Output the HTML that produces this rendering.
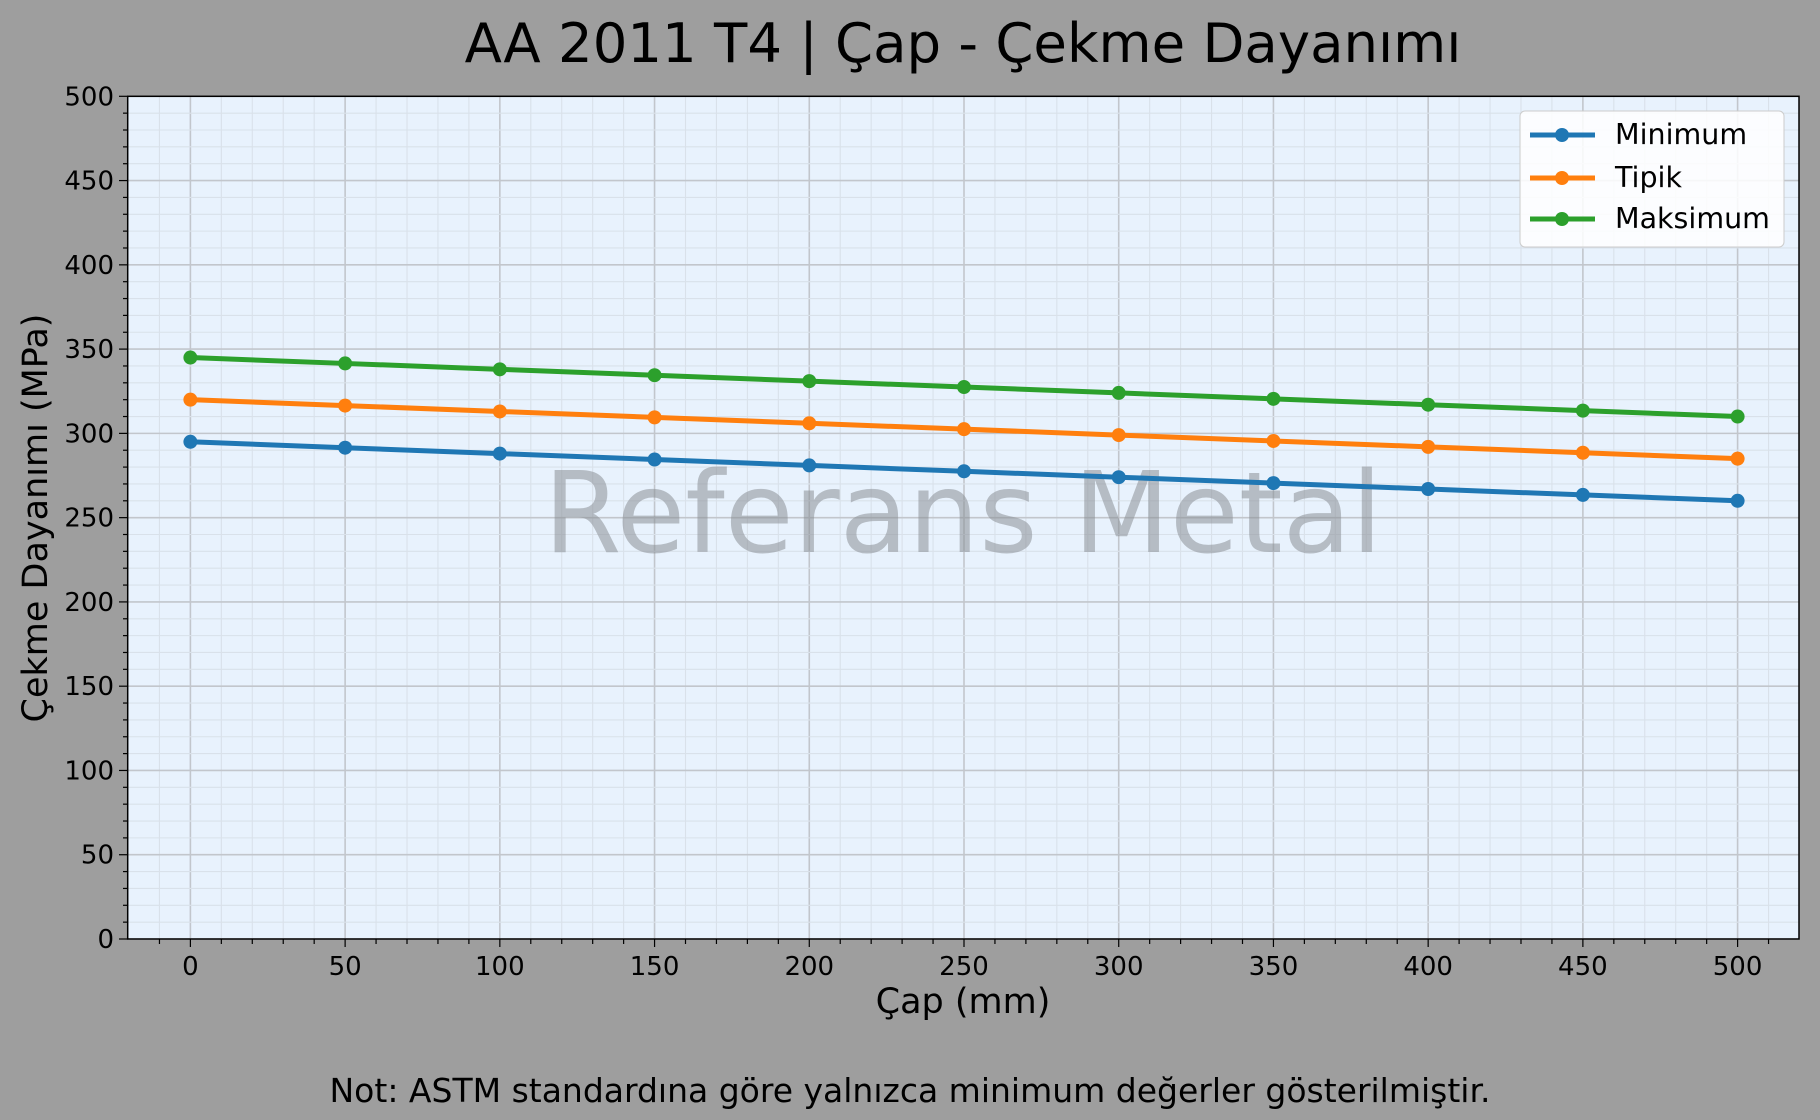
<!DOCTYPE html>
<html><head><meta charset="utf-8"><style>
html,body{margin:0;padding:0;background:#9e9e9e;}
svg{display:block;font-family:"DejaVu Sans","Liberation Sans",sans-serif;}
</style></head><body>
<svg id="s" width="1820" height="1120" xmlns="http://www.w3.org/2000/svg">
<rect width="1820" height="1120" fill="#9e9e9e"/>
<rect x="127.7" y="96.3" width="1671.3" height="842.7" fill="#e8f2fd"/>
<g id="grid"></g>
<text x="963" y="552" font-size="112" fill="#8a8f96" fill-opacity="0.55" text-anchor="middle">Referans Metal</text>
<g id="series"></g>
<rect x="127.7" y="96.3" width="1671.3" height="842.7" fill="none" stroke="#000" stroke-width="1.5"/>
<g id="ticks" font-size="26" fill="#000"></g>
<text x="963" y="62" font-size="54.5" text-anchor="middle">AA 2011 T4 | Çap - Çekme Dayanımı</text>
<text x="963" y="1013" font-size="35" text-anchor="middle">Çap (mm)</text>
<text transform="translate(47,518) rotate(-90)" font-size="35" text-anchor="middle">Çekme Dayanımı (MPa)</text>
<text x="910" y="1102" font-size="33" text-anchor="middle">Not: ASTM standardına göre yalnızca minimum değerler gösterilmiştir.</text>
<g>
<rect x="1520" y="111" width="264" height="136" rx="5" fill="#fff" fill-opacity="0.85" stroke="#ccc"/>
<line x1="1530" y1="135" x2="1595" y2="135" stroke="#1f77b4" stroke-width="5"/><circle cx="1562" cy="135" r="7" fill="#1f77b4"/>
<text x="1615" y="144" font-size="28.5">Minimum</text>
<line x1="1530" y1="178" x2="1595" y2="178" stroke="#ff7f0e" stroke-width="5"/><circle cx="1562" cy="178" r="7" fill="#ff7f0e"/>
<text x="1615" y="187" font-size="28.5">Tipik</text>
<line x1="1530" y1="219" x2="1595" y2="219" stroke="#2ca02c" stroke-width="5"/><circle cx="1562" cy="219" r="7" fill="#2ca02c"/>
<text x="1615" y="228" font-size="28.5">Maksimum</text>
</g>
</svg>
<script>
var NS="http://www.w3.org/2000/svg";
function X(v){return 190.4+v*(1737.6-190.4)/500;}
function Y(v){return 939-v*(939-96.3)/500;}
function el(t,a,p){var e=document.createElementNS(NS,t);for(var k in a)e.setAttribute(k,a[k]);p.appendChild(e);return e;}
var g=document.getElementById('grid'),tk=document.getElementById('ticks'),s=document.getElementById('series');
for(var v=-10;v<=510;v+=10){var x=X(v);if(x<128||x>1799)continue;var maj=v%50==0;
el('line',{x1:x,y1:96.3,x2:x,y2:939,stroke:maj?'#c2c6cc':'#d9e1ea','stroke-width':maj?1.6:1.1},g);
el('line',{x1:x,y1:939,x2:x,y2:maj?947:944,stroke:'#000','stroke-width':1.2},tk);
if(maj){var t=el('text',{x:x,y:975,'text-anchor':'middle'},tk);t.textContent=v;}}
for(var v=0;v<=500;v+=10){var y=Y(v);var maj=v%50==0;
el('line',{x1:127.7,y1:y,x2:1799,y2:y,stroke:maj?'#c2c6cc':'#d9e1ea','stroke-width':maj?1.6:1.1},g);
el('line',{x1:127.7,y1:y,x2:maj?119:123,y2:y,stroke:'#000','stroke-width':1.2},tk);
if(maj){var t=el('text',{x:114,y:y+9,'text-anchor':'end'},tk);t.textContent=v;}}
[[345,'#2ca02c'],[320,'#ff7f0e'],[295,'#1f77b4']].forEach(function(d){
var pts=[];for(var i=0;i<=10;i++){pts.push(X(i*50)+','+Y(d[0]-3.5*i));}
el('polyline',{points:pts.join(' '),fill:'none',stroke:d[1],'stroke-width':5},s);
for(var i=0;i<=10;i++)el('circle',{cx:X(i*50),cy:Y(d[0]-3.5*i),r:7,fill:d[1]},s);});
</script>
</body></html>
